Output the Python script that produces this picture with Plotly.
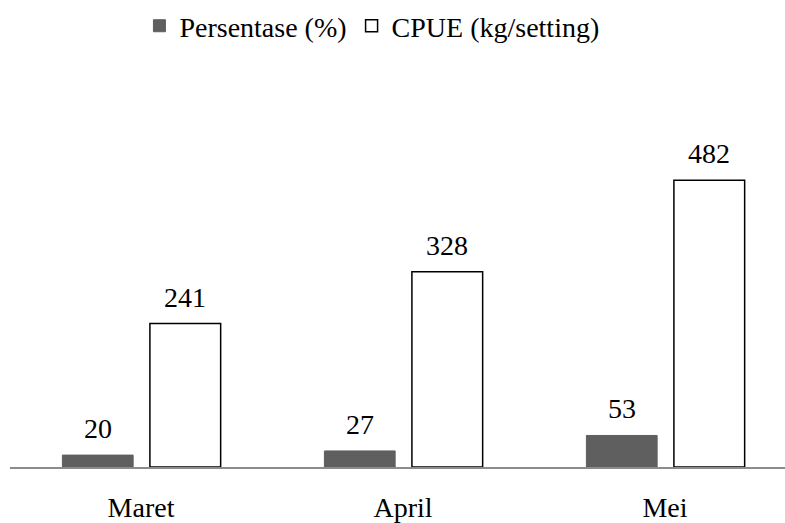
import plotly.graph_objects as go

months = ["Maret", "April", "Mei"]
persentase = [20, 27, 53]
cpue = [241, 328, 482]

FONT = "Liberation Serif"

fig = go.Figure()
fig.add_trace(go.Bar(
    x=months, y=persentase, name="Persentase (%)",
    width=0.27, offset=-0.30,
    marker=dict(color="#5f5f5f", line=dict(color="#5f5f5f", width=1)),
))
fig.add_trace(go.Bar(
    x=months, y=cpue, name="CPUE (kg/setting)",
    width=0.27, offset=0.034,
    marker=dict(color="white", line=dict(color="black", width=1.5)),
))

# value labels above each bar
for i, m in enumerate(months):
    for val, center in ((persentase[i], -0.165), (cpue[i], 0.169)):
        fig.add_annotation(
            x=i + center, y=val, text=str(val), showarrow=False,
            yanchor="bottom", yshift=9,
            font=dict(family=FONT, size=28, color="black"),
        )

fig.update_xaxes(
    range=[-0.5, 2.458], showgrid=False, zeroline=False, automargin=False,
    showline=True, linecolor="#8c8c8c", linewidth=1.5,
    ticks="", ticklabelstandoff=15,
    tickfont=dict(family=FONT, size=28, color="black"),
)
fig.update_yaxes(range=[0, 620], visible=False, showgrid=False, automargin=False)

fig.update_layout(
    width=785, height=523,
    margin=dict(l=10, r=0, t=98, b=56),
    barmode="overlay",
    paper_bgcolor="white", plot_bgcolor="white",
    showlegend=True,
    font=dict(family=FONT),
    legend=dict(
        orientation="h", x=0.467, xanchor="center", y=0.998, yanchor="top",
        yref="container", font=dict(family=FONT, size=28, color="black"),
        itemwidth=30, traceorder="normal",
    ),
)

fig.write_html(
    "out.html",
    config={"displayModeBar": False},
    post_script="document.body.style.margin='0';",
)
